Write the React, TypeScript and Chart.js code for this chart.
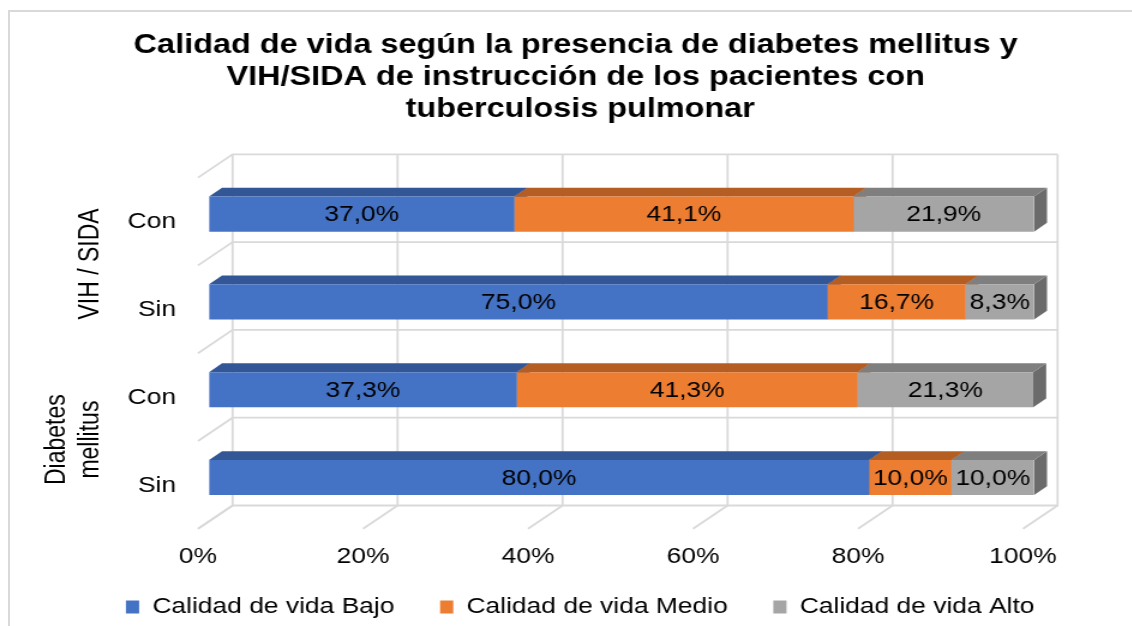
import React, { useEffect, useRef } from 'react';
import { Chart, registerables } from 'chart.js';

Chart.register(...registerables);

// ---------- data ----------
// (Excel keeps the wrap space at the end of the first two title lines)
const titleLines = [
  'Calidad de vida según la presencia de diabetes mellitus y ',
  'VIH/SIDA de instrucción de los pacientes con ',
  'tuberculosis pulmonar',
];
const categories = ['Con', 'Sin', 'Con', 'Sin'];
const groupLabels = [['VIH / SIDA'], ['Diabetes', 'mellitus']];
const groupSpans = [[0, 1], [2, 3]];
const seriesNames = ['Calidad de vida Bajo', 'Calidad de vida Medio', 'Calidad de vida Alto'];
const bajo = [37.0, 75.0, 37.3, 80.0];
const medio = [41.1, 16.7, 41.3, 10.0];
const alto = [21.9, 8.3, 21.3, 10.0];
const xTicks = [0, 20, 40, 60, 80, 100];

// ---------- styles ----------
const FONT = '"Liberation Sans", Arial, Helvetica, sans-serif';
const SX = 1.2; // horizontal stretch of the reference picture
const W = 967;
const H = 626;
const LEFT = 174.2;
const RIGHT = 105.3;
const LEGEND_PAD = 38;
const XAXIS_H = 50.6;
const BOTTOM_PAD = -16;
const LEGEND_LIFT = 14;
const frontColors = ['#4472C4', '#ED7D31', '#A5A5A5'];
const topColors = ['#335696', '#B45E24', '#7F7F7F'];
const sideColors = ['#2B4A82', '#9E521F', '#6B6B6B'];
const GRID = '#d9d9d9';
const D = { backX: 19.6, backY: -15.9, barX: 10.8, barY: -8.8, floorX: -9.2, floorY: 7.4 };

const fmt = (v: number) => v.toFixed(1).replace('.', ',') + '%';

const threeD = {
  id: 'threeD',
  afterLayout(chart: any) {
    if (chart.legend) {
      chart.legend.top -= LEGEND_LIFT;
      chart.legend.bottom -= LEGEND_LIFT;
    }
  },
  beforeDatasetsDraw(chart: any) {
    const { ctx, chartArea } = chart;
    const xs = chart.scales.x;
    const ys = chart.scales.y;
    ctx.save();
    ctx.strokeStyle = GRID;
    ctx.lineWidth = 1.8;
    const x0 = xs.getPixelForValue(xTicks[0]);
    const x1 = xs.getPixelForValue(xTicks[xTicks.length - 1]);
    xTicks.forEach((v) => {
      const X = xs.getPixelForValue(v);
      ctx.beginPath();
      ctx.moveTo(X + D.backX, chartArea.top + D.backY);
      ctx.lineTo(X + D.backX, chartArea.bottom + D.backY);
      ctx.lineTo(X + D.floorX, chartArea.bottom + D.floorY);
      ctx.stroke();
    });
    for (let k = 0; k <= categories.length; k++) {
      const Y = ys.getPixelForValue(k - 0.5);
      ctx.beginPath();
      ctx.moveTo(x1 + D.backX, Y + D.backY);
      ctx.lineTo(x0 + D.backX, Y + D.backY);
      ctx.lineTo(x0 + D.floorX, Y + D.floorY);
      ctx.stroke();
    }
    const n = chart.data.datasets.length;
    const rects: any[][] = [];
    for (let i = 0; i < n; i++) {
      const meta = chart.getDatasetMeta(i);
      rects.push(
        meta.data.map((el: any) => {
          const p = el.getProps(['x', 'y', 'base', 'height'], true);
          return {
            l: Math.min(p.x, p.base),
            r: Math.max(p.x, p.base),
            t: p.y - p.height / 2,
            b: p.y + p.height / 2,
          };
        })
      );
    }
    for (let i = 0; i < n; i++) {
      rects[i].forEach((q) => {
        ctx.fillStyle = sideColors[i];
        ctx.beginPath();
        ctx.moveTo(q.r, q.t);
        ctx.lineTo(q.r + D.barX, q.t + D.barY);
        ctx.lineTo(q.r + D.barX, q.b + D.barY);
        ctx.lineTo(q.r, q.b);
        ctx.closePath();
        ctx.fill();
      });
    }
    for (let i = 0; i < n; i++) {
      rects[i].forEach((q) => {
        ctx.fillStyle = topColors[i];
        ctx.beginPath();
        ctx.moveTo(q.l, q.t);
        ctx.lineTo(q.r, q.t);
        ctx.lineTo(q.r + D.barX, q.t + D.barY);
        ctx.lineTo(q.l + D.barX, q.t + D.barY);
        ctx.closePath();
        ctx.fill();
      });
    }
    ctx.restore();
  },
  afterDatasetsDraw(chart: any) {
    const { ctx } = chart;
    ctx.save();
    ctx.font = `22px ${FONT}`;
    ctx.fillStyle = '#000';
    ctx.textAlign = 'center';
    ctx.textBaseline = 'middle';
    chart.data.datasets.forEach((ds: any, i: number) => {
      const meta = chart.getDatasetMeta(i);
      meta.data.forEach((el: any, j: number) => {
        const p = el.getProps(['x', 'y', 'base'], true);
        ctx.fillText(fmt(ds.data[j]), (p.x + p.base) / 2, p.y + 1);
      });
    });
    ctx.restore();
  },
  afterDraw(chart: any) {
    const { ctx, chartArea } = chart;
    const ys = chart.scales.y;
    ctx.save();
    ctx.font = `23px ${FONT}`;
    ctx.fillStyle = '#000';
    ctx.textAlign = 'center';
    ctx.textBaseline = 'middle';
    const lh = 27.6;
    groupLabels.forEach((lines, g) => {
      const [a, b] = groupSpans[g];
      const yc = (ys.getPixelForValue(a) + ys.getPixelForValue(b)) / 2 + 6;
      const xLast = chartArea.left - 99;
      ctx.save();
      ctx.translate(xLast, yc);
      ctx.rotate(-Math.PI / 2);
      lines.forEach((t, k) => {
        ctx.fillText(t, 0, (k - (lines.length - 1)) * lh);
      });
      ctx.restore();
    });
    ctx.restore();
  },
};

export default function App() {
  const ref = useRef<HTMLCanvasElement>(null);
  useEffect(() => {
    Chart.defaults.font.family = FONT;
    Chart.defaults.color = '#000';
    const chart = new Chart(ref.current as HTMLCanvasElement, {
      type: 'bar',
      data: {
        labels: categories,
        datasets: [bajo, medio, alto].map((d, i) => ({
          label: seriesNames[i],
          data: d,
          backgroundColor: frontColors[i],
          borderWidth: 0,
          categoryPercentage: 1,
          barPercentage: 0.4,
        })),
      },
      options: {
        indexAxis: 'y',
        animation: false,
        responsive: false,
        layout: { padding: { left: 0, right: 0, top: 0, bottom: BOTTOM_PAD } },
        scales: {
          x: {
            type: 'linear',
            stacked: true,
            min: 0,
            max: 100,
            afterBuildTicks: (s: any) => {
              s.ticks = xTicks.map((v) => ({ value: v }));
            },
            afterFit: (s: any) => {
              s.height = XAXIS_H;
            },
            grid: { display: false, drawTicks: false },
            border: { display: false },
            ticks: {
              callback: (v: any) => v + '%',
              color: '#000',
              font: { size: 22 },
              padding: 22,
              labelOffset: D.floorX,
            },
          },
          y: {
            type: 'category',
            stacked: true,
            grid: { display: false, drawTicks: false },
            border: { display: false },
            ticks: { color: '#000', font: { size: 22 }, padding: 27.5, labelOffset: 8 },
            afterFit: (s: any) => {
              s.width = LEFT;
            },
          },
          yRight: {
            type: 'linear',
            position: 'right',
            display: true,
            min: 0,
            max: 1,
            grid: { display: false, drawTicks: false },
            border: { display: false },
            ticks: { display: false },
            afterFit: (s: any) => {
              s.width = RIGHT;
            },
          },
        } as any,
        plugins: {
          title: {
            display: true,
            text: titleLines,
            color: '#000',
            font: { size: 27, weight: 'bold', lineHeight: 1.2 },
            padding: { top: 29, bottom: 44 },
          },
          legend: {
            position: 'bottom',
            labels: {
              color: '#000',
              font: { size: 22 },
              boxWidth: 11,
              boxHeight: 13,
              padding: LEGEND_PAD,
            },
          },
          tooltip: { enabled: false },
        },
      },
      plugins: [threeD],
    } as any);
    return () => chart.destroy();
  }, []);
  return (
    <div
      style={{
        position: 'fixed',
        left: 0,
        top: 0,
        width: 1132,
        height: 626,
        overflow: 'hidden',
        background: '#fff',
      }}
    >
      <div
        style={{
          position: 'absolute',
          left: 8,
          top: 10,
          width: 1400,
          height: 900,
          borderLeft: `2px solid ${GRID}`,
          borderTop: `2px solid ${GRID}`,
        }}
      />
      <canvas
        ref={ref}
        width={W}
        height={H}
        style={{
          position: 'absolute',
          left: 0,
          top: 0,
          width: W,
          height: H,
          transform: `scaleX(${SX})`,
          transformOrigin: '0 0',
        }}
      />
    </div>
  );
}
